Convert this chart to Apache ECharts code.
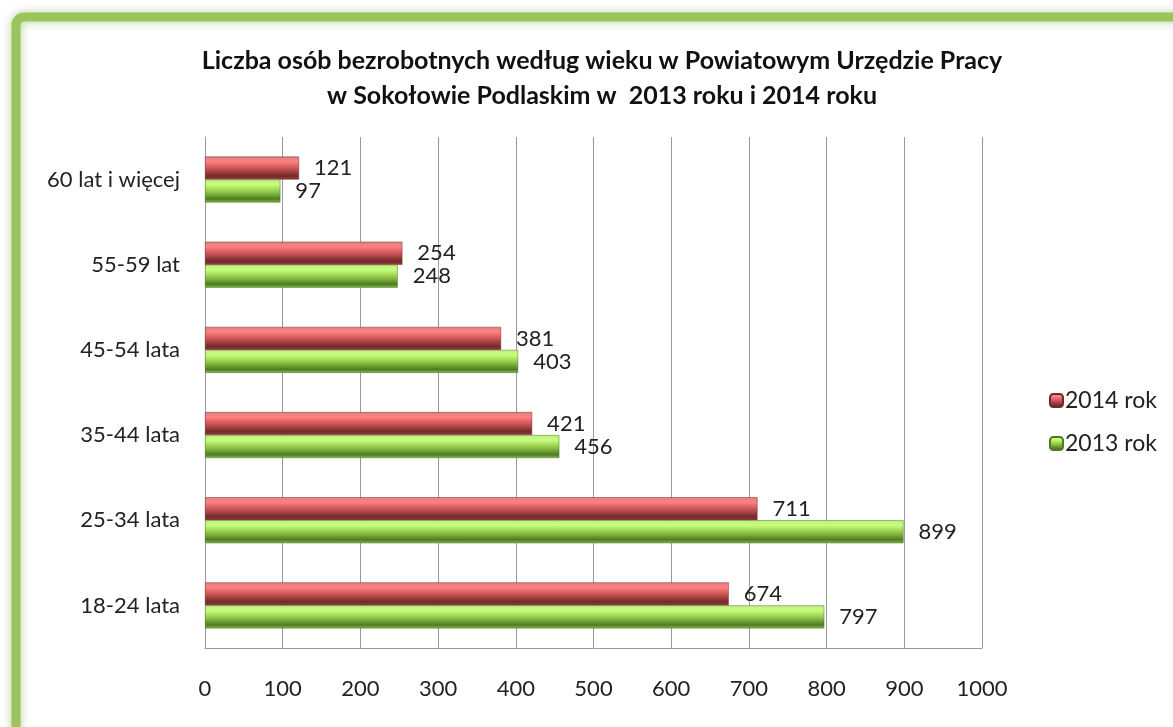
<!DOCTYPE html>
<html>
<head>
<meta charset="utf-8">
<script src="https://cdn.jsdelivr.net/npm/echarts@6/dist/echarts.min.js"></script>
<style>
  html, body { margin: 0; padding: 0; background: #fff; }
  #chart { width: 1173px; height: 727px; }
</style>
</head>
<body>
<div id="chart"></div>
<script>
// dane z wykresu
const categories = ['18-24 lata', '25-34 lata', '35-44 lata', '45-54 lata', '55-59 lat', '60 lat i więcej'];
const values2014 = [674, 711, 421, 381, 254, 121];
const values2013 = [797, 899, 456, 403, 248, 97];
const xTicks = [0, 100, 200, 300, 400, 500, 600, 700, 800, 900, 1000];

const redFill = new echarts.graphic.LinearGradient(0, 0, 0, 1, [
    { offset: 0, color: '#e08080' },
    { offset: 0.22, color: '#ff8080' },
    { offset: 0.55, color: '#c44e4e' },
    { offset: 0.85, color: '#702a2a' },
    { offset: 1, color: '#9c3c3c' }
]);
const greenFill = new echarts.graphic.LinearGradient(0, 0, 0, 1, [
    { offset: 0, color: '#c0ec88' },
    { offset: 0.22, color: '#c6ff7a' },
    { offset: 0.55, color: '#8ec446' },
    { offset: 0.85, color: '#4f7a22' },
    { offset: 1, color: '#88bc4c' }
]);

const chart = echarts.init(document.getElementById('chart'));

const labelStyle = {
    show: true,
    position: 'right',
    distance: 15,
    fontFamily: 'Lato',
    fontSize: 22,
    color: '#222'
};

const options = {
    backgroundColor: '#fff',
    textStyle: { fontFamily: 'Lato' },
    graphic: [
        {
            type: 'rect',
            shape: { x: 16, y: 17, width: 1250, height: 800, r: 8 },
            style: {
                fill: 'none',
                stroke: '#9bc45a',
                lineWidth: 9,
                shadowColor: 'rgba(120,170,60,0.55)',
                shadowBlur: 10
            },
            z: -1
        }
    ],
    title: {
        text: 'Liczba osób bezrobotnych według wieku w Powiatowym Urzędzie Pracy\nw Sokołowie Podlaskim w  2013 roku i 2014 roku',
        left: 597,
        textAlign: 'center',
        top: 38,
        textStyle: {
            fontFamily: 'Lato',
            fontSize: 25,
            fontWeight: 'bold',
            color: '#111',
            lineHeight: 35
        }
    },
    legend: {
        orient: 'vertical',
        left: 1044,
        top: 384,
        itemWidth: 13,
        itemHeight: 13,
        itemGap: 20,
        textStyle: { fontFamily: 'Lato', fontSize: 23, color: '#222', padding: [0, 0, 0, -3] }
    },
    grid: { left: 205, right: 191, top: 137, bottom: 79, containLabel: false },
    xAxis: {
        type: 'value',
        min: xTicks[0],
        max: xTicks[xTicks.length - 1],
        interval: 100,
        axisLine: { show: true, lineStyle: { color: '#999' } },
        axisTick: { show: false },
        splitLine: { show: true, lineStyle: { color: '#999', width: 1 } },
        axisLabel: { margin: 30, fontFamily: 'Lato', fontSize: 22, color: '#222', formatter: v => String(v) }
    },
    yAxis: {
        type: 'category',
        data: categories,
        axisLine: { show: true, lineStyle: { color: '#999' } },
        axisTick: { show: false },
        axisLabel: { margin: 25, fontFamily: 'Lato', fontSize: 22, color: '#222' }
    },
    series: [
        {
            name: '2014 rok',
            type: 'bar',
            data: values2014,
            barGap: '0%',
            barCategoryGap: '46%',
            itemStyle: { color: redFill, borderColor: '#6e2a2a', borderWidth: 0.5 },
            label: labelStyle
        },
        {
            name: '2013 rok',
            type: 'bar',
            data: values2013,
            barGap: '0%',
            barCategoryGap: '46%',
            itemStyle: { color: greenFill, borderColor: '#4f7a22', borderWidth: 0.5 },
            label: labelStyle
        }
    ]
};

chart.setOption(options);
</script>
</body>
</html>
